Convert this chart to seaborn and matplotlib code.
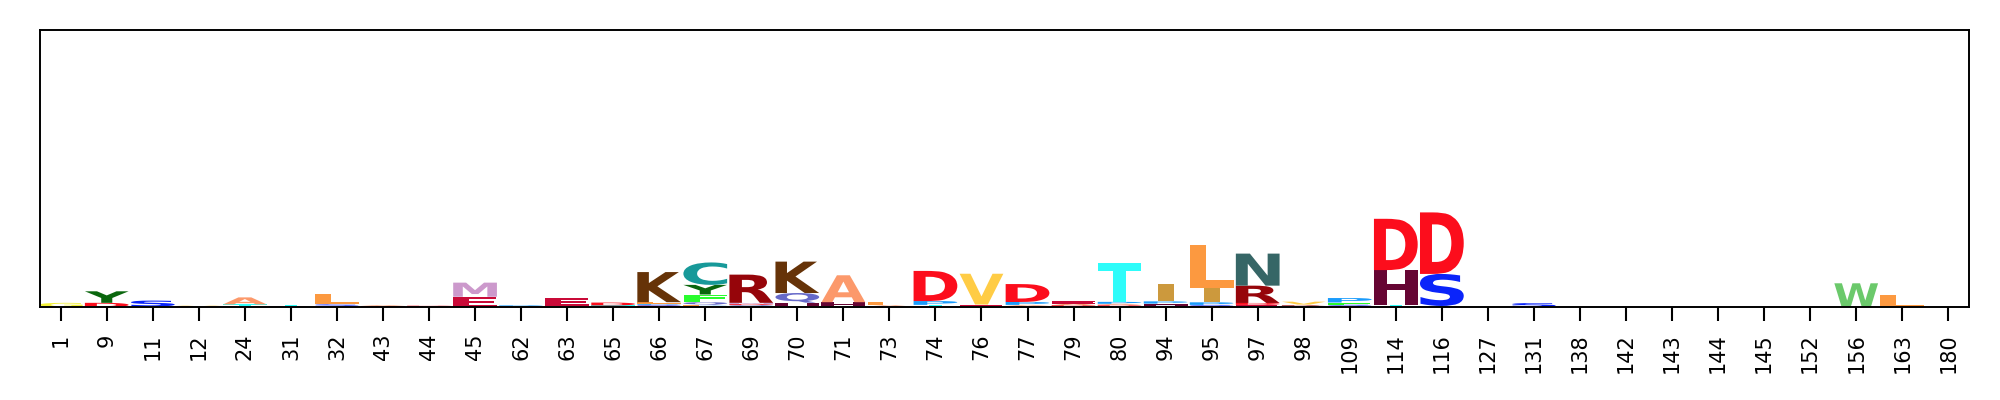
import numpy as np
import pandas as pd
import matplotlib
matplotlib.use("Agg")
import matplotlib.pyplot as plt
import seaborn as sns
from matplotlib.textpath import TextPath
from matplotlib.patches import PathPatch
from matplotlib.transforms import Affine2D
from matplotlib.font_manager import FontProperties

# Positions shown on the x axis
positions = [1, 9, 11, 12, 24, 31, 32, 43, 44, 45, 62, 63, 65, 66, 67, 69, 70, 71, 73, 74, 76,
             77, 79, 80, 94, 95, 97, 98, 109, 114, 116, 127, 131, 138, 142, 143, 144, 145, 152,
             156, 163, 180]

# Letter heights (bits) per position
A = [0, 0, 0, 0, 0.11, 0, 0, 0.012, 0.006, 0, 0, 0.008, 0.008, 0, 0.008, 0.008, 0, 0.42, 0.015, 0.008, 0.008, 0.015, 0.025, 0.015, 0, 0, 0, 0.008, 0, 0.008, 0, 0, 0, 0, 0, 0, 0, 0, 0, 0, 0, 0]
C = [0, 0, 0, 0, 0, 0, 0, 0, 0, 0, 0, 0, 0, 0, 0.35, 0, 0, 0, 0, 0, 0, 0, 0, 0, 0, 0, 0, 0, 0, 0, 0, 0, 0, 0, 0, 0, 0, 0, 0, 0, 0, 0]
D = [0, 0.065, 0, 0, 0, 0, 0, 0.006, 0.008, 0, 0, 0, 0.045, 0.012, 0, 0.015, 0.008, 0, 0, 0.47, 0, 0.28, 0.02, 0.015, 0, 0, 0.03, 0, 0.008, 0.80, 0.96, 0, 0, 0, 0, 0, 0, 0, 0, 0, 0, 0]
E = [0, 0, 0, 0, 0, 0.008, 0, 0.01, 0.006, 0.16, 0, 0.12, 0, 0.008, 0, 0, 0, 0, 0.01, 0.01, 0.01, 0.01, 0.035, 0.01, 0.008, 0.008, 0.025, 0.01, 0, 0.006, 0, 0, 0, 0, 0, 0, 0, 0, 0, 0, 0, 0]
F = [0, 0, 0, 0, 0, 0, 0, 0, 0, 0, 0, 0, 0, 0, 0.12, 0, 0, 0, 0, 0, 0, 0, 0, 0, 0, 0, 0, 0, 0.035, 0, 0, 0, 0, 0, 0, 0, 0, 0, 0, 0, 0, 0]
G = [0.065, 0, 0, 0, 0, 0, 0, 0, 0, 0, 0, 0, 0, 0, 0, 0, 0, 0, 0, 0, 0.006, 0, 0, 0, 0, 0, 0, 0, 0, 0, 0, 0, 0, 0, 0, 0, 0, 0, 0, 0, 0, 0]
H = [0, 0, 0, 0, 0, 0, 0.012, 0, 0, 0, 0, 0, 0, 0, 0, 0, 0.05, 0.065, 0, 0, 0.015, 0, 0, 0, 0.03, 0, 0, 0, 0, 0.55, 0, 0, 0, 0, 0, 0, 0, 0, 0, 0, 0, 0]
I = [0, 0, 0, 0, 0, 0, 0, 0, 0, 0, 0, 0, 0, 0, 0, 0, 0, 0, 0, 0, 0, 0, 0, 0, 0.27, 0.22, 0, 0, 0, 0, 0, 0, 0, 0, 0, 0, 0, 0, 0, 0, 0, 0]
K = [0, 0, 0, 0, 0, 0, 0, 0, 0, 0, 0, 0, 0, 0.47, 0, 0, 0.49, 0, 0, 0, 0, 0, 0, 0, 0, 0, 0, 0, 0, 0, 0, 0, 0, 0, 0, 0, 0, 0, 0, 0, 0, 0]
L = [0, 0, 0, 0.008, 0, 0, 0.16, 0, 0, 0, 0, 0.01, 0, 0.025, 0.015, 0, 0, 0.01, 0.06, 0, 0, 0.008, 0, 0.01, 0, 0.67, 0.008, 0, 0, 0, 0, 0, 0, 0, 0, 0, 0, 0, 0, 0, 0.19, 0]
M = [0, 0, 0, 0, 0, 0, 0, 0, 0, 0.22, 0, 0, 0, 0, 0, 0.02, 0, 0, 0, 0, 0, 0, 0, 0, 0, 0, 0, 0, 0, 0, 0, 0, 0, 0, 0, 0, 0, 0, 0, 0, 0, 0]
N = [0, 0, 0, 0, 0, 0, 0, 0, 0, 0, 0, 0, 0, 0, 0, 0, 0, 0, 0, 0, 0, 0, 0, 0, 0, 0, 0.50, 0, 0, 0, 0, 0, 0, 0, 0, 0, 0, 0, 0, 0, 0, 0]
P = [0, 0, 0.01, 0, 0.01, 0.006, 0, 0, 0, 0, 0.015, 0, 0, 0.015, 0.012, 0.01, 0, 0, 0, 0.06, 0, 0.045, 0, 0.03, 0.035, 0.04, 0, 0, 0.07, 0, 0.006, 0, 0.006, 0, 0, 0, 0, 0, 0, 0, 0, 0]
Q = [0, 0, 0, 0, 0, 0, 0.008, 0, 0, 0, 0, 0, 0, 0, 0.04, 0.012, 0.15, 0, 0, 0, 0, 0, 0, 0, 0.015, 0.01, 0, 0, 0.012, 0, 0, 0, 0, 0, 0, 0, 0, 0, 0, 0, 0, 0]
R = [0, 0, 0, 0, 0, 0.006, 0, 0, 0, 0, 0, 0, 0.006, 0, 0, 0.44, 0, 0, 0, 0, 0, 0, 0.008, 0, 0, 0, 0.27, 0.01, 0, 0, 0, 0, 0, 0, 0, 0, 0, 0, 0, 0, 0, 0]
S = [0, 0, 0.09, 0, 0, 0, 0.02, 0, 0, 0, 0, 0, 0, 0.015, 0, 0, 0, 0, 0, 0, 0, 0, 0, 0, 0, 0.015, 0, 0, 0.015, 0, 0.50, 0, 0.055, 0, 0, 0, 0, 0, 0, 0, 0, 0]
T = [0, 0, 0, 0, 0.03, 0.008, 0, 0, 0, 0, 0.01, 0, 0.01, 0, 0, 0, 0.01, 0, 0, 0.015, 0, 0, 0, 0.60, 0, 0, 0, 0.01, 0, 0.012, 0.01, 0, 0, 0, 0, 0, 0, 0, 0, 0, 0, 0]
V = [0, 0, 0, 0.012, 0, 0, 0, 0, 0, 0, 0, 0, 0, 0, 0, 0, 0, 0, 0, 0, 0.48, 0, 0, 0, 0, 0, 0, 0.045, 0, 0, 0, 0, 0, 0, 0, 0, 0, 0, 0, 0, 0, 0]
W = [0, 0, 0, 0, 0, 0, 0, 0, 0, 0, 0, 0, 0, 0, 0, 0, 0, 0, 0, 0, 0, 0, 0, 0, 0, 0, 0, 0, 0, 0, 0, 0, 0, 0, 0, 0, 0, 0, 0, 0.37, 0, 0]
Y = [0, 0.18, 0, 0, 0, 0, 0, 0, 0, 0, 0, 0, 0, 0, 0.15, 0, 0, 0, 0, 0, 0, 0, 0, 0, 0, 0, 0, 0, 0, 0, 0, 0, 0, 0, 0, 0, 0, 0, 0, 0, 0, 0]

# skylign protein colour scheme
colors = {
    'F': [.16, .99, .18], 'Y': [.04, .40, .05], 'L': [.99, .60, .25], 'V': [1.0, .80, .27],
    'I': [.80, .60, .24], 'H': [.40, .02, .20], 'W': [.42, .79, .42], 'A': [.99, .60, .42],
    'S': [.04, .14, .98], 'T': [.18, .99, .98], 'M': [.80, .60, .80], 'N': [.21, .40, .40],
    'Q': [.40, .41, .79], 'R': [.59, .02, .04], 'K': [.40, .20, .03], 'E': [.79, .04, .22],
    'G': [.95, .94, .22], 'D': [.99, .05, .11], 'P': [.10, .61, .99], 'C': [.09, .60, .60],
}

matrix = pd.DataFrame({'A': A, 'C': C, 'D': D, 'E': E, 'F': F, 'G': G, 'H': H, 'I': I,
                       'K': K, 'L': L, 'M': M, 'N': N, 'P': P, 'Q': Q, 'R': R, 'S': S,
                       'T': T, 'V': V, 'W': W, 'Y': Y})

sns.set_style("white")
plt.rcParams['font.family'] = ['DejaVu Sans']

font = FontProperties(family='DejaVu Sans', weight='bold')

# narrow letters (like I) are not stretched to the full column width
_ref_width = TextPath((0, 0), 'E', size=1, prop=font).get_extents().width


def draw_glyph(ax, char, x, floor, height, width, color):
    tp = TextPath((0, 0), char, size=1, prop=font)
    bb = tp.get_extents()
    w = min(width, width * bb.width / _ref_width)
    tr = (Affine2D().translate(-bb.x0, -bb.y0)
          .scale(w / bb.width, height / bb.height)
          .translate(x - w / 2, floor))
    ax.add_patch(PathPatch(tr.transform_path(tp), facecolor=color, edgecolor='none'))


fig = plt.figure(figsize=(20, 4), dpi=100)
ax = fig.add_axes([0.02, 0.2325, 0.9645, 0.6925])

# stack letters small at bottom, big on top
for i, row in matrix.iterrows():
    row = row[row > 0].sort_values()
    floor = 0.0
    for ch, h in row.items():
        draw_glyph(ax, ch, i, floor, h, 0.95, colors[ch])
        floor += h

ax.set_xlim(-0.45, len(positions) - 0.55)
ax.set_ylim(0, np.log2(20))
ax.set_xticks(range(len(positions)))
ax.set_xticklabels([str(p) for p in positions])
ax.set_yticks([])
ax.tick_params(axis='x', bottom=True, length=10, width=1.5, pad=9, color='black',
               labelsize=15, labelrotation=90, labelcolor='black')
for s in ax.spines.values():
    s.set_visible(True)
    s.set_color('black')
    s.set_linewidth(1.4)

fig.savefig("out.png", dpi=100)
